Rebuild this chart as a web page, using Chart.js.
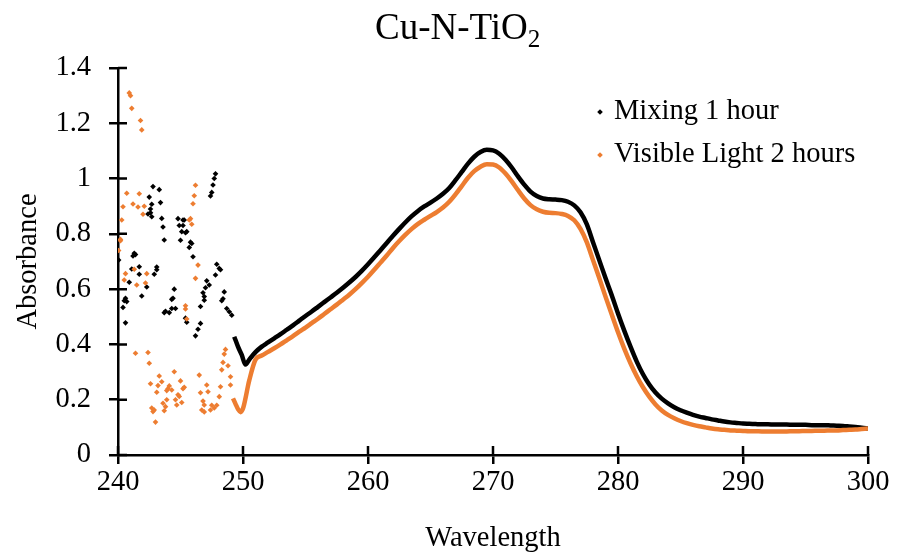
<!DOCTYPE html>
<html>
<head>
<meta charset="utf-8">
<script src="https://cdn.jsdelivr.net/npm/chart.js@4/dist/chart.umd.min.js"></script>
<style>
  body { margin: 0; background: #fff; }
  #wrap { position: relative; width: 898px; height: 556px; font-family: 'Liberation Serif', 'Times New Roman', serif; color: #000; }
  #title { position: absolute; left: 375px; top: 8px; font-size: 37px; line-height: 1; white-space: nowrap; }
  #title sub { font-size: 0.68em; vertical-align: -0.32em; line-height: 0; }
  .leg { position: absolute; left: 614px; font-size: 28.5px; line-height: 1; white-space: nowrap; }
  .mk { position: absolute; left: 598px; width: 4px; height: 4px; transform: rotate(45deg); }
</style>
</head>
<body>
<div id="wrap">
  <canvas id="chart" width="898" height="556"></canvas>
  <div id="title">Cu-N-TiO<sub>2</sub></div>
  <div class="mk" style="top:110px;background:#000"></div>
  <div class="leg" style="top:96px">Mixing 1 hour</div>
  <div class="mk" style="top:153px;background:#ED7D31"></div>
  <div class="leg" style="top:139px">Visible Light 2 hours</div>
</div>
<script>
// noisy part below 250 nm
const mixNoiseWl = [240.05, 240.4, 240.5, 240.6, 240.6, 240.7, 240.9, 241.1, 241.2, 241.3, 241.4, 241.7, 241.7, 241.9,
  242.3, 242.4, 242.5, 242.6, 242.6, 242.7, 242.7, 242.8, 242.9, 243.1, 243.1, 243.3, 243.4, 243.5, 243.6, 243.7,
  243.7, 243.8, 244.1, 244.3, 244.3, 244.4, 244.5, 244.6, 244.8, 244.9, 245.0, 245.1, 245.2, 245.2, 245.3, 245.4,
  245.4, 245.5, 245.5, 245.7, 245.8, 245.9, 246.0, 246.2, 246.4, 246.6, 246.6, 246.8, 246.9, 246.9, 247.0, 247.1,
  247.3, 247.4, 247.5, 247.6, 247.7, 247.8, 247.8, 247.9, 248.1, 248.2, 248.3, 248.4, 248.5, 248.7, 248.9, 249.1];
const mixNoiseAbs = [0.705, 0.534, 0.558, 0.567, 0.478, 0.555, 0.625, 0.673, 0.72, 0.73, 0.725, 0.681, 0.654, 0.575,
  0.608, 0.872, 0.933, 0.89, 0.876, 0.862, 0.907, 0.971, 0.654, 0.67, 0.68, 0.96, 0.913, 0.856, 0.825, 0.778,
  0.515, 0.52, 0.515, 0.563, 0.53, 0.567, 0.6, 0.53, 0.855, 0.83, 0.777, 0.808, 0.83, 0.85, 0.85, 0.804,
  0.495, 0.48, 0.808, 0.751, 0.77, 0.765, 0.717, 0.431, 0.455, 0.476, 0.537, 0.587, 0.573, 0.56, 0.605, 0.63,
  0.615, 0.937, 0.95, 0.977, 1.0, 1.017, 0.651, 0.69, 0.675, 0.67, 0.558, 0.565, 0.59, 0.53, 0.518, 0.506];

const visNoiseWl = [240.05, 240.2, 240.2, 240.3, 240.4, 240.5, 240.6, 240.7, 240.9, 241.0, 241.1, 241.2, 241.3, 241.4,
  241.5, 241.6, 241.7, 241.8, 241.9, 242.0, 242.1, 242.2, 242.3, 242.4, 242.5, 242.6, 242.7, 242.8, 242.9, 243.0,
  243.1, 243.2, 243.3, 243.5, 243.6, 243.7, 243.8, 243.9, 243.9, 244.0, 244.1, 244.3, 244.5, 244.6, 244.7, 244.8,
  244.9, 245.0, 245.1, 245.2, 245.3, 245.4, 245.4, 245.5, 245.7, 245.8, 245.9, 246.0, 246.1, 246.2, 246.2, 246.4,
  246.5, 246.6, 246.7, 246.8, 246.9, 246.9, 247.1, 247.2, 247.4, 247.5, 247.7, 247.9, 248.1, 248.2, 248.3, 248.4,
  248.5, 248.6, 248.8, 249.0, 249.0];
const visNoiseAbs = [0.74, 0.775, 0.78, 0.85, 0.898, 0.633, 0.656, 0.947, 1.31, 1.3, 1.254, 0.908, 0.672, 0.368,
  0.615, 0.897, 0.945, 1.21, 1.176, 0.871, 0.9, 0.622, 0.656, 0.371, 0.332, 0.258, 0.17, 0.157, 0.163, 0.119,
  0.227, 0.251, 0.286, 0.265, 0.187, 0.16, 0.175, 0.233, 0.2, 0.24, 0.25, 0.235, 0.301, 0.2, 0.181, 0.218,
  0.212, 0.268, 0.19, 0.24, 0.245, 0.54, 0.528, 0.492, 0.85, 0.855, 0.835, 0.909, 0.938, 0.976, 0.639, 0.687,
  0.289, 0.225, 0.163, 0.195, 0.181, 0.156, 0.253, 0.229, 0.163, 0.18, 0.17, 0.18, 0.211, 0.247, 0.308, 0.335,
  0.365, 0.382, 0.323, 0.283, 0.253];

// where each curve turns smooth
const mixLeadWl = [249.3, 249.6, 249.9, 250.2];
const mixLeadAbs = [0.428, 0.392, 0.362, 0.327];
const visLeadWl = [249.2, 249.4, 249.6, 249.8, 250.0, 250.2, 250.4];
const visLeadAbs = [0.205, 0.185, 0.166, 0.155, 0.168, 0.205, 0.25];

// smooth part, every 0.5 nm
const wavelengths = [250.5, 251, 251.5, 252, 252.5, 253, 253.5, 254, 254.5, 255,
  255.5, 256, 256.5, 257, 257.5, 258, 258.5, 259, 259.5, 260,
  260.5, 261, 261.5, 262, 262.5, 263, 263.5, 264, 264.5, 265,
  265.5, 266, 266.5, 267, 267.5, 268, 268.5, 269, 269.5, 270,
  270.5, 271, 271.5, 272, 272.5, 273, 273.5, 274, 274.5, 275,
  275.5, 276, 276.5, 277, 277.5, 278, 278.5, 279, 279.5, 280,
  280.5, 281, 281.5, 282, 282.5, 283, 283.5, 284, 284.5, 285,
  285.5, 286, 286.5, 287, 287.5, 288, 288.5, 289, 289.5, 290,
  290.5, 291, 291.5, 292, 292.5, 293, 293.5, 294, 294.5, 295,
  295.5, 296, 296.5, 297, 297.5, 298, 298.5, 299, 299.5, 300];
const mixAbs = [0.345, 0.372, 0.392, 0.407, 0.422, 0.437, 0.453, 0.469, 0.486, 0.503,
  0.519, 0.536, 0.553, 0.57, 0.587, 0.605, 0.624, 0.644, 0.666, 0.69,
  0.715, 0.741, 0.767, 0.793, 0.818, 0.842, 0.864, 0.883, 0.899, 0.913,
  0.928, 0.945, 0.966, 0.994, 1.024, 1.054, 1.079, 1.096, 1.104, 1.102,
  1.09, 1.068, 1.04, 1.008, 0.978, 0.953, 0.937, 0.928, 0.925, 0.924,
  0.922, 0.916, 0.903, 0.878, 0.835, 0.77, 0.705, 0.64, 0.578, 0.512,
  0.45, 0.392, 0.338, 0.292, 0.255, 0.226, 0.204, 0.187, 0.173, 0.162,
  0.153, 0.145, 0.139, 0.134, 0.129, 0.125, 0.121, 0.118, 0.116, 0.114,
  0.113, 0.112, 0.111, 0.111, 0.11, 0.11, 0.11, 0.109, 0.109, 0.109,
  0.108, 0.108, 0.108, 0.107, 0.106, 0.105, 0.103, 0.101, 0.099, 0.096];
const visAbs = [0.27, 0.345, 0.36, 0.373, 0.386, 0.4, 0.415, 0.43, 0.446, 0.461,
  0.477, 0.493, 0.51, 0.527, 0.544, 0.562, 0.58, 0.6, 0.622, 0.645,
  0.67, 0.696, 0.722, 0.749, 0.774, 0.797, 0.818, 0.836, 0.851, 0.865,
  0.879, 0.895, 0.916, 0.943, 0.973, 1.003, 1.027, 1.043, 1.052, 1.051,
  1.04, 1.018, 0.99, 0.958, 0.928, 0.904, 0.889, 0.88, 0.876, 0.875,
  0.872, 0.865, 0.849, 0.818, 0.77, 0.705, 0.64, 0.573, 0.508, 0.444,
  0.385, 0.332, 0.285, 0.245, 0.211, 0.183, 0.161, 0.145, 0.133, 0.123,
  0.115, 0.109, 0.104, 0.1, 0.096, 0.093, 0.091, 0.089, 0.088, 0.087,
  0.086, 0.086, 0.085, 0.085, 0.085, 0.085, 0.085, 0.086, 0.086, 0.087,
  0.087, 0.088, 0.088, 0.089, 0.089, 0.09, 0.091, 0.092, 0.094, 0.096];

const yTickLabels = ['0', '0.2', '0.4', '0.6', '0.8', '1', '1.2', '1.4'];

const BLACK = '#000000';
const ORANGE = '#ED7D31';

function pts(xs, ys) {
  return xs.map((x, i) => ({ x: x, y: ys[i] }));
}

const innerTicks = {
  id: 'innerTicks',
  afterDraw(chart) {
    const { ctx, chartArea, scales } = chart;
    ctx.save();
    ctx.strokeStyle = BLACK;
    ctx.lineWidth = 2.5;
    ctx.beginPath();
    scales.x.ticks.forEach((t, i) => {
      const px = scales.x.getPixelForTick(i);
      ctx.moveTo(px, chartArea.bottom);
      ctx.lineTo(px, chartArea.bottom - 9);
    });
    scales.y.ticks.forEach((t, i) => {
      const py = scales.y.getPixelForTick(i);
      ctx.moveTo(chartArea.left, py);
      ctx.lineTo(chartArea.left + 9, py);
    });
    ctx.stroke();
    ctx.restore();
  }
};

Chart.defaults.font.family = "'Liberation Serif', 'Times New Roman', serif";
Chart.defaults.color = BLACK;

const dotStyle = { showLine: false, pointStyle: 'rectRot', pointRadius: 2.8, borderWidth: 0 };
const lineStyle = { showLine: true, pointRadius: 0, borderWidth: 4.5, cubicInterpolationMode: 'monotone' };

new Chart(document.getElementById('chart'), {
  type: 'scatter',
  data: {
    datasets: [
      Object.assign({ label: 'Visible Light 2 hours', data: pts(visNoiseWl, visNoiseAbs), backgroundColor: ORANGE }, dotStyle),
      Object.assign({ label: 'Visible Light 2 hours', data: pts(visLeadWl.concat(wavelengths), visLeadAbs.concat(visAbs)), borderColor: ORANGE }, lineStyle),
      Object.assign({ label: 'Mixing 1 hour', data: pts(mixNoiseWl, mixNoiseAbs), backgroundColor: BLACK }, dotStyle),
      Object.assign({ label: 'Mixing 1 hour', data: pts(mixLeadWl.concat(wavelengths), mixLeadAbs.concat(mixAbs)), borderColor: BLACK }, lineStyle)
    ]
  },
  options: {
    responsive: false,
    devicePixelRatio: 1,
    animation: false,
    layout: { padding: { top: 68, right: 30, left: 0, bottom: 0 } },
    plugins: { legend: { display: false }, tooltip: { enabled: false } },
    scales: {
      x: {
        type: 'linear', min: 240, max: 300,
        afterFit: (s) => { s.height = 101; },
        ticks: { stepSize: 10, font: { size: 28.5 }, color: BLACK, padding: 1 },
        grid: { drawOnChartArea: false, drawTicks: true, tickLength: 9, color: BLACK, lineWidth: 2.5 },
        border: { color: BLACK, width: 2.5 },
        title: { display: true, text: 'Wavelength', font: { size: 28.5 }, color: BLACK, padding: { top: 0, bottom: 0 } }
      },
      y: {
        min: 0, max: 1.4,
        afterFit: (s) => { s.width = 118; },
        ticks: { stepSize: 0.2, font: { size: 28.5 }, color: BLACK, padding: 18,
          callback: (v, i) => yTickLabels[i] },
        grid: { drawOnChartArea: false, drawTicks: true, tickLength: 9, color: BLACK, lineWidth: 2.5 },
        border: { color: BLACK, width: 2.5 },
        title: { display: true, text: 'Absorbance', font: { size: 28.5 }, color: BLACK, padding: { top: 11, bottom: 0 } }
      }
    }
  },
  plugins: [innerTicks]
});
</script>
</body>
</html>
